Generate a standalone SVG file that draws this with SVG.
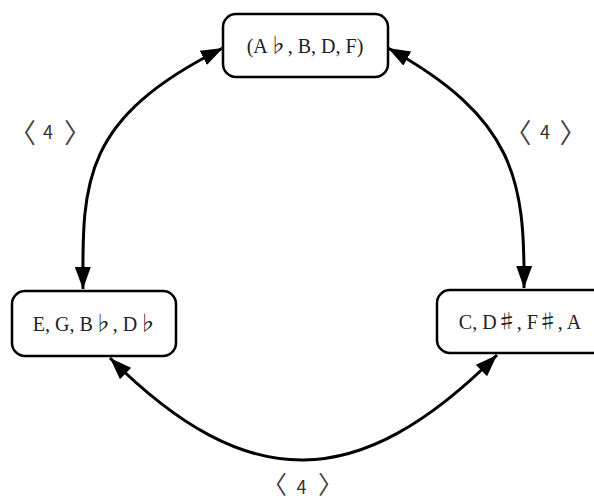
<svg xmlns="http://www.w3.org/2000/svg" width="594" height="502" viewBox="0 0 594 502">
<style>
.box{fill:#fff;stroke:#000;stroke-width:2.5}
.node{font-family:"Liberation Serif","Noto Sans CJK JP",serif;font-size:20px;fill:#222;text-anchor:middle}
.acc{font-family:"Noto Sans CJK JP","Noto Sans CJK SC",serif;fill:#222}
.conn{fill:none;stroke:#000;stroke-width:3}
.lbl{font-family:"Noto Sans CJK JP","Noto Sans",sans-serif;fill:#333;text-anchor:middle}
.br{font-size:27px;fill:#444}
.brb{font-size:25px;fill:#444}
.num{font-size:18px}
</style>
<defs>
<marker id="ah" viewBox="0 0 22 16" refX="22" refY="8" markerWidth="22" markerHeight="16" markerUnits="userSpaceOnUse" orient="auto-start-reverse">
<path d="M0,0 L22,8 L0,16 z" fill="#000"/>
</marker>
</defs>
<g id="connectors">
<path class="conn" d="M223,48 C83,118 82,180 83,289" marker-start="url(#ah)" marker-end="url(#ah)"/>
<path class="conn" d="M388,48 C515,118 525,180 524,288" marker-start="url(#ah)" marker-end="url(#ah)"/>
<path class="conn" d="M110,358 C248,496 359,493 497,355" marker-start="url(#ah)" marker-end="url(#ah)"/>
</g>
<g id="node-top">
<rect class="box" x="223" y="14" width="165" height="63" rx="13"/>
<text class="node" x="305" y="53">(A<tspan class="acc">♭</tspan>, B, D, F)</text>
</g>
<g id="node-left">
<rect class="box" x="12" y="291" width="164" height="65" rx="13"/>
<text class="node" x="95" y="331">E, G, B<tspan class="acc">♭</tspan>, D<tspan class="acc">♭</tspan></text>
</g>
<g id="node-right">
<rect class="box" x="437" y="290" width="172" height="63" rx="13"/>
<text class="node" x="520" y="329">C, D<tspan class="acc">♯</tspan>, F<tspan class="acc">♯</tspan>, A</text>
</g>
<g id="labels">
<text class="lbl"><tspan class="br" x="22.5" y="143">〈</tspan><tspan class="num" x="48" y="139">4</tspan><tspan class="br" x="77.5" y="143">〉</tspan></text>
<text class="lbl"><tspan class="br" x="518" y="143">〈</tspan><tspan class="num" x="545" y="139">4</tspan><tspan class="br" x="573" y="143">〉</tspan></text>
<text class="lbl"><tspan class="brb" x="274.5" y="494">〈</tspan><tspan class="num" x="301.5" y="494">4</tspan><tspan class="brb" x="330.5" y="494">〉</tspan></text>
</g>
</svg>
